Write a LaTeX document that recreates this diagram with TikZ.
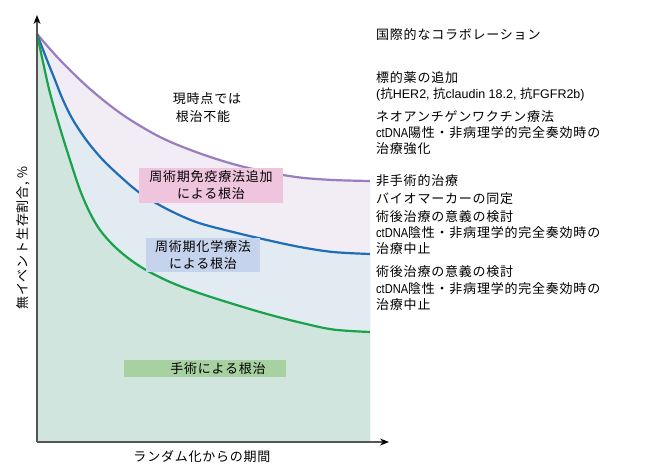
\documentclass[tikz,border=0pt]{standalone}
\usepackage{fontspec}
\setmainfont{Noto Sans CJK JP}[LetterSpace=6]
\newfontfamily\lat{Liberation Sans}[FakeStretch=0.85]
\newfontfamily\latw{Liberation Sans}
\usetikzlibrary{arrows.meta}
\definecolor{pur}{HTML}{9A7CC0}
\definecolor{blu}{HTML}{1F6DB5}
\definecolor{grn}{HTML}{19A24A}
\definecolor{fpur}{HTML}{F2ECF5}
\definecolor{fblu}{HTML}{E2EAF2}
\definecolor{fgrn}{HTML}{CFE5DD}
\definecolor{bpink}{HTML}{EFC4DD}
\definecolor{bblue}{HTML}{C6D3EC}
\definecolor{bgreen}{HTML}{A8D1A1}
\definecolor{axisgray}{HTML}{555555}
\begin{document}
\begin{tikzpicture}[x=1pt,y=-1pt,
  txt/.style={font=\fontsize{13}{17}\selectfont, inner sep=0pt, align=center},
  rtxt/.style={txt, anchor=west, align=left},
  curve/.style={line width=2.2pt, smooth, tension=0.55},
  labbox/.style={txt, inner sep=0pt},
  axisline/.style={draw=axisgray, line width=1.3pt, -{Stealth[length=9pt,width=7pt,black]}}]
\useasboundingbox (0,0) rectangle (646,472);
% filled bands
\fill[fpur] plot[smooth, tension=0.55] coordinates {(37,34) (60,60) (90,89) (123,115) (160,137) (196,152) (233,164) (267,172) (300,177.5) (333,180) (370,181)} -- (370,442) -- (37,442) -- cycle;
\fill[fblu] plot[smooth, tension=0.55] coordinates {(37,34) (47,60) (55,80) (63,100) (73,120) (87,141) (103,160) (122,178) (140,193) (165,208) (196,222) (233,232) (267,240) (300,247) (333,252) (370,254)} -- (370,442) -- (37,442) -- cycle;
\fill[fgrn] plot[smooth, tension=0.55] coordinates {(37,34) (43,62) (50,93) (60,128) (70,160) (80,190) (90,213) (100,230) (113,245) (128,258) (146,270) (170,282) (196,292) (230,303) (267,314) (300,322.5) (333,329.5) (370,332)} -- (370,442) -- (37,442) -- cycle;
% curves
\draw[curve, pur] plot coordinates {(37,34) (60,60) (90,89) (123,115) (160,137) (196,152) (233,164) (267,172) (300,177.5) (333,180) (370,181)};
\draw[curve, blu] plot coordinates {(37,34) (47,60) (55,80) (63,100) (73,120) (87,141) (103,160) (122,178) (140,193) (165,208) (196,222) (233,232) (267,240) (300,247) (333,252) (370,254)};
\draw[curve, grn] plot coordinates {(37,34) (43,62) (50,93) (60,128) (70,160) (80,190) (90,213) (100,230) (113,245) (128,258) (146,270) (170,282) (196,292) (230,303) (267,314) (300,322.5) (333,329.5) (370,332)};
% axes
\coordinate (origin) at (37,442);
\coordinate (ytip) at (37,15);
\coordinate (xtip) at (389,442);
\draw[axisline] (origin) -- (ytip);
\draw[axisline] (origin) -- (xtip);
% boxes
\node[labbox, fill=bpink, minimum width=144pt, minimum height=35pt] (immuno) at (211,185) {周術期免疫療法追加\\による根治};
\node[labbox, fill=bblue, minimum width=114pt, minimum height=34pt] (chemo) at (203,255) {周術期化学療法\\による根治};
\node[fill=bgreen, minimum width=162pt, minimum height=17pt, inner sep=0pt] (surgbox) at (205,368.5) {};
\node[txt] (surg) at (218,368.5) {手術による根治};
\node[txt] (now1) at (207,99) {現時点では};
\node[txt] (now2) at (203,117) {根治不能};
% axis labels
\node[txt] (xlab) at (202,457) {ランダム化からの期間};
\node[txt, rotate=90] (ylab) at (23,238) {無イベント生存割合, \%};
% right column
\node[rtxt] (r1) at (376,35) {国際的なコラボレーション};
\node[rtxt] (r2) at (376,78) {標的薬の追加};
\node[rtxt, font=\fontsize{12.5}{14}\selectfont] (r3) at (376,95) {{\latw(}抗{\latw HER2, }抗{\latw claudin 18.2, }抗{\latw FGFR2b)}};
\node[rtxt] (r4) at (376,117) {ネオアンチゲンワクチン療法};
\node[rtxt] (r5) at (376,133) {{\lat ctDNA}陽性・非病理学的完全奏効時の};
\node[rtxt] (r6) at (376,149) {治療強化};
\node[rtxt] (r7) at (376,181) {非手術的治療};
\node[rtxt] (r8) at (376,199) {バイオマーカーの同定};
\node[rtxt] (r9) at (376,217) {術後治療の意義の検討};
\node[rtxt] (r10) at (376,233) {{\lat ctDNA}陰性・非病理学的完全奏効時の};
\node[rtxt] (r11) at (376,249) {治療中止};
\node[rtxt] (r12) at (376,272) {術後治療の意義の検討};
\node[rtxt] (r13) at (376,289) {{\lat ctDNA}陰性・非病理学的完全奏効時の};
\node[rtxt] (r14) at (376,305) {治療中止};
\end{tikzpicture}
\end{document}
